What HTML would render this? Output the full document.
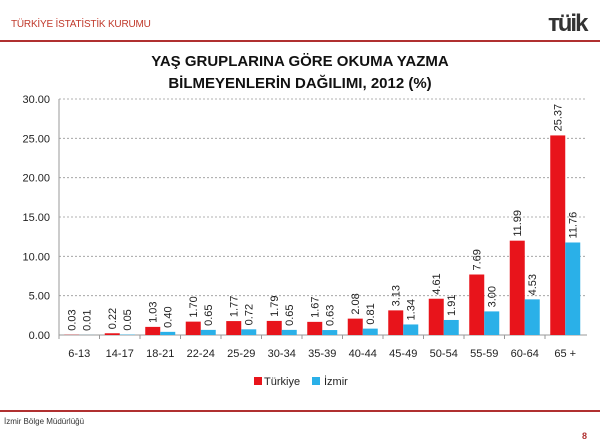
<!DOCTYPE html>
<html><head><meta charset="utf-8"><style>
body{margin:0;width:600px;height:447px;background:#fff;font-family:"Liberation Sans",sans-serif;overflow:hidden;position:relative}
</style></head><body>
<div style="position:absolute;left:11px;top:19px;font-size:10px;color:#c0392b;letter-spacing:-0.2px">TÜRKİYE İSTATİSTİK KURUMU</div>
<div style="position:absolute;left:548px;top:10px;font-size:24px;font-weight:bold;color:#333;letter-spacing:-2px">ᴛüik</div>
<div style="position:absolute;left:0;top:40px;width:600px;height:2px;background:#b03030"></div>
<div style="position:absolute;left:0;top:51px;width:600px;text-align:center;font-size:15px;font-weight:bold;line-height:22px;color:#111">YAŞ GRUPLARINA GÖRE OKUMA YAZMA<br>BİLMEYENLERİN DAĞILIMI, 2012 (%)</div>
<svg id="chart" width="600" height="447" style="position:absolute;left:0;top:0"></svg>
<div style="position:absolute;left:0;top:410px;width:600px;height:2px;background:#b03030"></div>
<div style="position:absolute;left:4px;top:417px;font-size:8px;color:#333">İzmir Bölge Müdürlüğü</div>
<div style="position:absolute;left:582px;top:431px;font-size:9px;font-weight:bold;color:#b03030">8</div>
<script>
const categories=["6-13","14-17","18-21","22-24","25-29","30-34","35-39","40-44","45-49","50-54","55-59","60-64","65 +"];
const turkiye=[0.03,0.22,1.03,1.70,1.77,1.79,1.67,2.08,3.13,4.61,7.69,11.99,25.37];
const izmir=[0.01,0.05,0.40,0.65,0.72,0.65,0.63,0.81,1.34,1.91,3.00,4.53,11.76];
const yTicks=[0,5,10,15,20,25,30];
const svg=document.getElementById('chart');const NS='http://www.w3.org/2000/svg';
const x0=59,step=40.5,bw=15;
const y=v=>335-v*(236/30);
const xc=i=>x0+step*(i+0.5);
function mk(t,a,p){const e=document.createElementNS(NS,t);for(const k in a)e.setAttribute(k,a[k]);(p||svg).appendChild(e);return e;}
yTicks.forEach(t=>{
 if(t>0){const l=mk('line',{x1:x0,x2:587,y1:y(t),y2:y(t),stroke:'#999','stroke-dasharray':'2,2','stroke-width':0.8});
 }
 const tx=mk('text',{x:50,y:y(t)+4,'text-anchor':'end','font-size':11,fill:'#222'});tx.textContent=t.toFixed(2);
 
});
const ax=mk('line',{x1:x0,x2:x0,y1:y(30),y2:335,stroke:'#999'});
const bx=mk('line',{x1:x0,x2:587,y1:335,y2:335,stroke:'#999'});
categories.forEach((c,i)=>{
 const tk=mk('line',{x1:x0+step*i,x2:x0+step*i,y1:335,y2:339,stroke:'#999'});
 const tl=mk('text',{x:xc(i),y:357,'text-anchor':'middle','font-size':11,fill:'#222'});tl.textContent=c;
 
 [[turkiye[i],'#e8141b',-bw],[izmir[i],'#2ab0e8',0]].forEach(([v,col,off],s)=>{
  const bx0=xc(i)+off;
  const r=mk('rect',{x:bx0,y:y(v),width:bw,height:335-y(v),fill:col});
  
  const lx=bx0+bw/2+4,ly=y(v)-4;
  const lab=mk('text',{x:lx,y:ly,transform:`rotate(-90 ${lx} ${ly})`,'font-size':11,fill:'#222'});lab.textContent=v.toFixed(2);
  
 });
});
const lg=mk('g',{});
const r1=mk('rect',{x:254,y:377,width:8,height:8,fill:'#e8141b'},lg);
const t1=mk('text',{x:264,y:385,'font-size':11,fill:'#222'},lg);t1.textContent='Türkiye';
const r2=mk('rect',{x:312,y:377,width:8,height:8,fill:'#2ab0e8'},lg);
const t2=mk('text',{x:324,y:385,'font-size':11,fill:'#222'},lg);t2.textContent='İzmir';
</script>
</body></html>
